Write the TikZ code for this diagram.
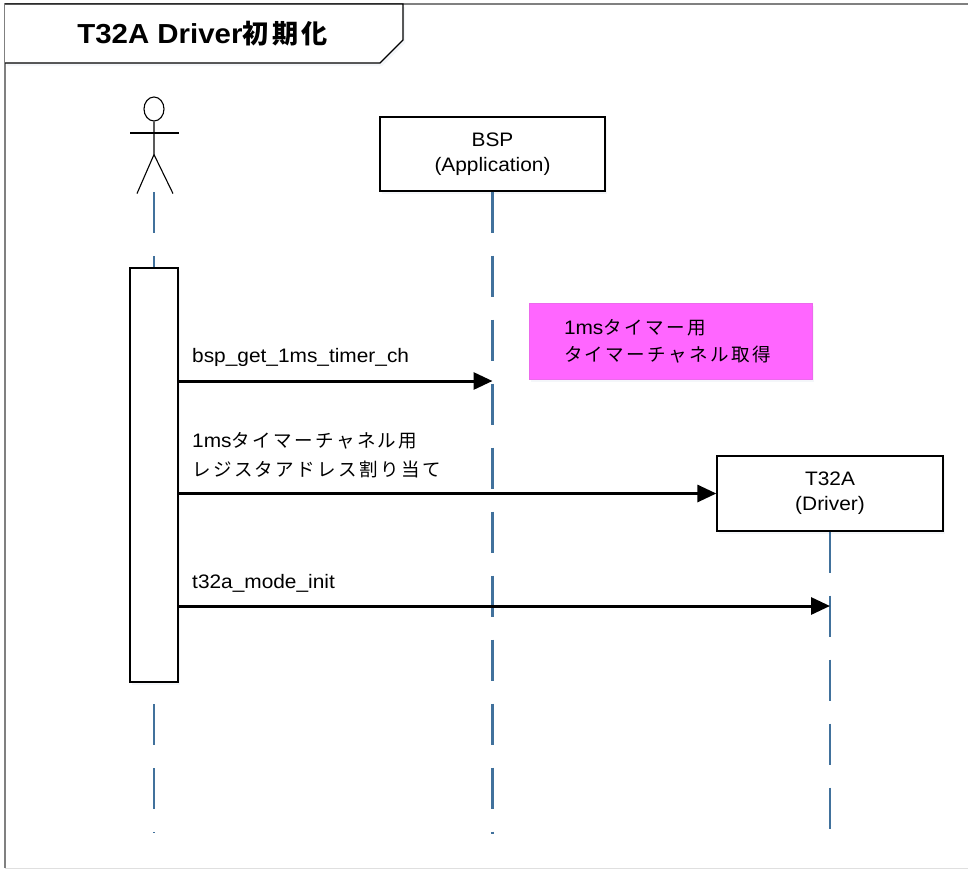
\documentclass[tikz,border=0pt]{standalone}
\usepackage{fontspec}
\setmainfont{Liberation Sans}[FakeStretch=1.07]
\newfontfamily\cjk{Noto Sans CJK JP}[Scale=0.95,LetterSpace=13]
\usepackage{xcolor}
\usetikzlibrary{positioning,arrows.meta,shapes.geometric,shadows}
\definecolor{lifeblue}{RGB}{65,113,156}
\definecolor{notepink}{RGB}{255,102,255}

\begin{document}
\begin{tikzpicture}[x=1pt,y=-1pt,
    softshadow/.style={drop shadow={shadow xshift=2pt,shadow yshift=-3pt,fill=lifeblue!30,opacity=0.2}},
    lifebox/.style={draw,line width=1.3pt,fill=white,minimum width=225pt,minimum height=74pt,align=center,font=\fontsize{19.5}{25}\selectfont,softshadow},
    lifeline/.style={draw=lifeblue,line width=2.4pt,dash pattern=on 41pt off 23pt},
    msg/.style={line width=3pt,-{Triangle[length=19pt,width=17pt]}},
    lbl/.style={font=\fontsize{19.5}{29}\selectfont,inner sep=0pt,align=left},
    note/.style={fill=notepink,draw=notepink!85!gray,minimum height=76pt,text width=213pt,inner xsep=35pt,align=left,font=\fontsize{19.5}{27}\selectfont,softshadow}]
    \useasboundingbox (0,0) rectangle (968,870);
    \draw[gray,line width=1.3pt] (968,4) -- (5,4) -- (5,868);
    \draw[gray!25,line width=1pt] (5,868) -- (968,868);
    \draw[line width=1.3pt,fill=white,softshadow] (5,4) -- (403,4) -- (403,40) -- (380,63) -- (5,63);
    \node[anchor=base,font=\bfseries\fontsize{27.5}{34}\selectfont] (title) at (202.5,43) {T32A Driver{\cjk 初期化}};

    \node[ellipse,draw,line width=1.1pt,minimum width=20pt,minimum height=24pt,inner sep=0pt] (head) at (154,109) {};
    \draw[line width=1.1pt] (head.south) -- ++(0,33) coordinate (hip) -- ++(-17,39);
    \draw[line width=1.1pt] (hip) -- ++(19,39);
    \draw[line width=1.1pt] (130,133) -- (179,133);
    \draw[lifeline] (head.south |- 0,192) -- ++(0,641);
    \node[draw,line width=1.2pt,fill=white,minimum width=48pt,minimum height=414pt,inner sep=0pt,softshadow] (act) at (154,475) {};

    \node[lifebox] (bsp) at (492.5,154) {BSP\\(Application)};
    \draw[lifeline] (bsp.south) -- ++(0,642);
    \node[lifebox,minimum width=226pt,minimum height=75pt] (t32a) at (830,493.5) {T32A\\(Driver)};
    \draw[lifeline] (t32a.south) -- ++(0,297);

    \node[note] (note) at (670.5,341) {1ms{\cjk タイマー用}\\{\cjk タイマーチャネル取得}};

    \draw[msg] (act.east |- 0,381) -- (bsp.south |- 0,381);
    \node[lbl,anchor=base west] (get ch) at (192,362) {bsp\_get\_1ms\_timer\_ch};
    \draw[msg] (act.east |- t32a.west) -- (t32a.west);
    \node[lbl,anchor=west] (assign) at (192,455) {1ms{\cjk タイマーチャネル用}\\{\cjk レジスタアドレス割り当て}};
    \draw[msg] (act.east |- 0,606) -- (t32a.south |- 0,606);
    \node[lbl,anchor=base west] (mode init) at (192,588) {t32a\_mode\_init};
\end{tikzpicture}
\end{document}
